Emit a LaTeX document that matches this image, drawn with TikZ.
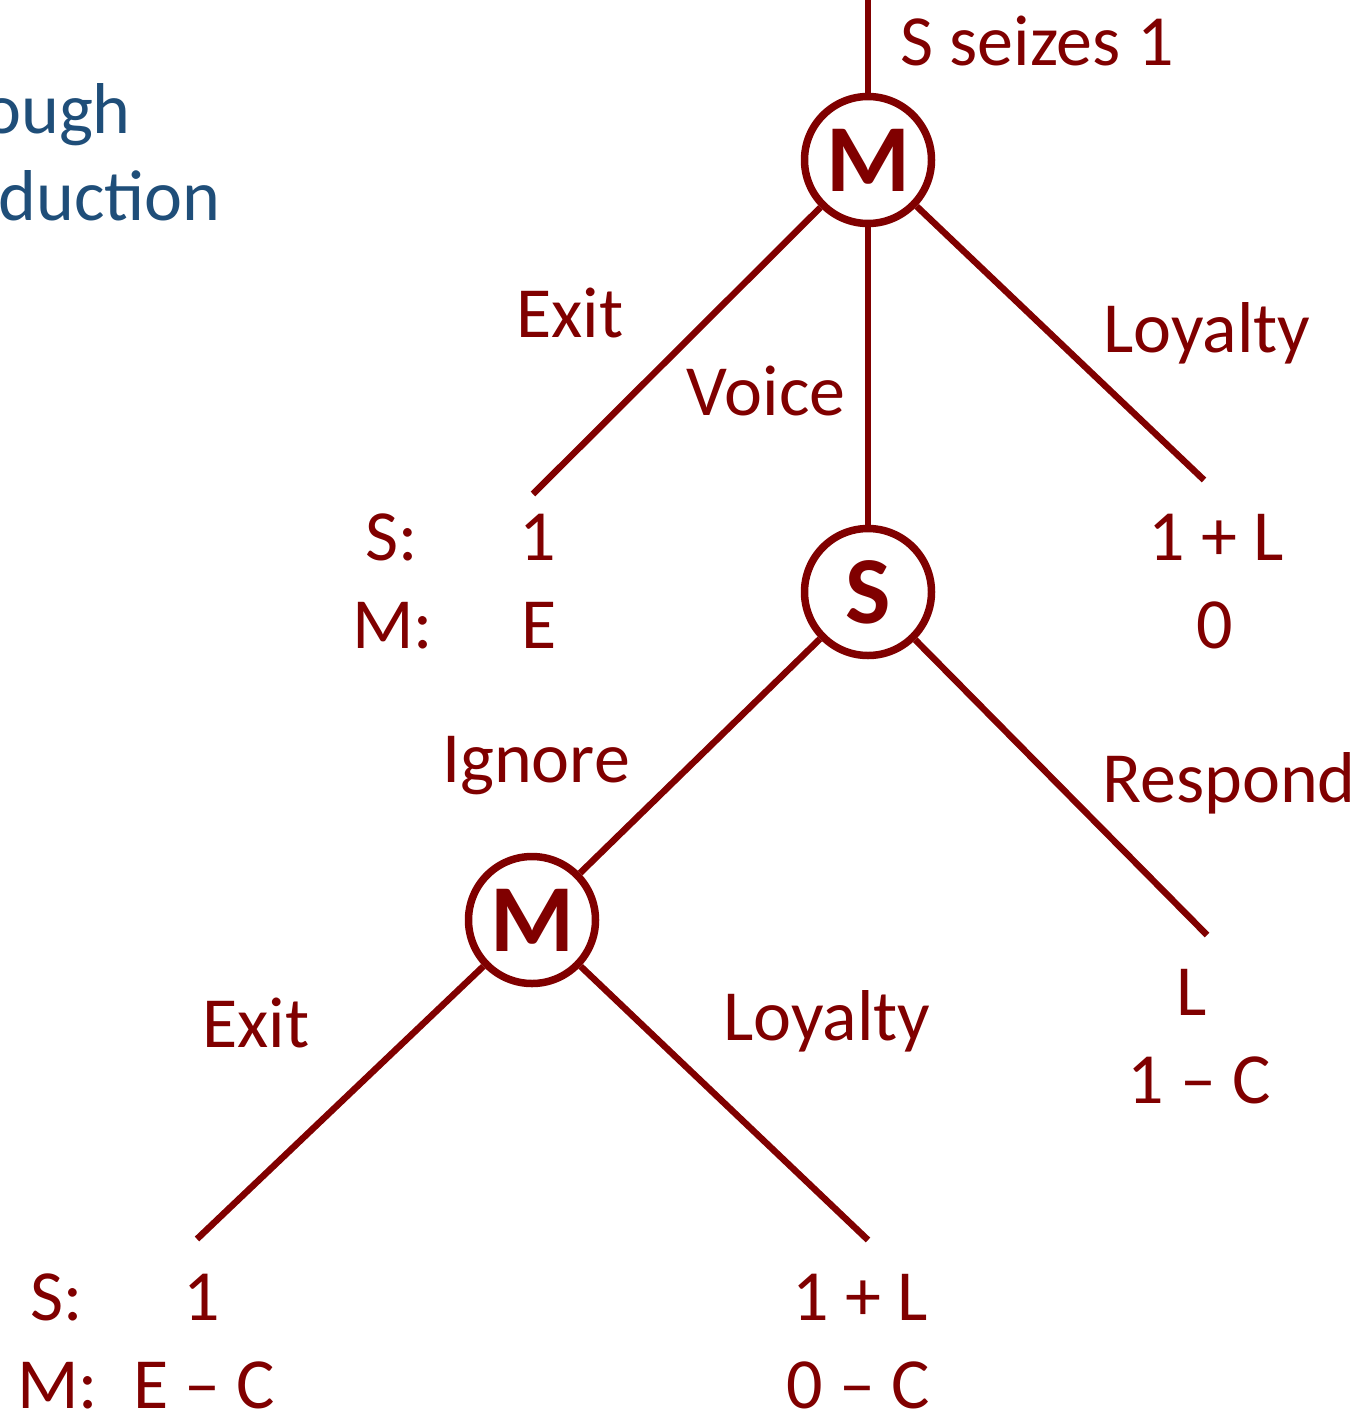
\documentclass[tikz,border=0pt]{standalone}
\usepackage{fontspec}
\setmainfont{Carlito}
\definecolor{maroon}{HTML}{800000}
\definecolor{titleblue}{HTML}{1F4E79}
\begin{document}
\begin{tikzpicture}[x=1pt,y=-1pt,
  lbl/.style={text=maroon,font=\fontsize{72}{72}\selectfont,inner sep=0pt},
  ttl/.style={text=titleblue,font=\fontsize{72}{72}\selectfont,inner sep=0pt},
  player/.style={circle,draw=maroon,line width=7.5pt,fill=white,minimum size=127pt,inner sep=0pt,text=maroon,font=\fontsize{96}{96}\selectfont\bfseries},
  branch/.style={draw=maroon,line width=6.5pt}]
\useasboundingbox (0,0) rectangle (1365,1414);
\clip (0,0) rectangle (1365,1414);
% title fragments
\node[ttl,anchor=base east] (t1) at (131,133) {ough};
\node[ttl,anchor=base east] (t2) at (221,220) {duction};
% players
\node[player] (m1) at (868,160) {M};
\node[player] (s1) at (868,592) {S};
\node[player] (m2) at (532,920) {M};
% end coordinates
\coordinate (top) at (868,-10);
\coordinate (e1) at (533,494);
\coordinate (l1) at (1204,480);
\coordinate (r1) at (1207,935);
\coordinate (e2) at (197,1239);
\coordinate (l2) at (868,1240);
% branches
\draw[branch] (top) -- (m1);
\draw[branch] (m1) -- (e1);
\draw[branch] (m1) -- (s1);
\draw[branch] (m1) -- (l1);
\draw[branch] (s1) -- (m2);
\draw[branch] (s1) -- (r1);
\draw[branch] (m2) -- (e2);
\draw[branch] (m2) -- (l2);
% action labels
\node[lbl,anchor=base west] (seize) at (900,65) {S seizes 1};
\node[lbl,anchor=base] (exit1) at (570,337) {Exit};
\node[lbl,anchor=base] (voice) at (766,415) {Voice};
\node[lbl,anchor=base] (loy1) at (1207,352) {Loyalty};
\node[lbl,anchor=base] (ignore) at (536,782) {Ignore};
\node[lbl,anchor=base] (respond) at (1229,802) {Respond};
\node[lbl,anchor=base] (exit2) at (256,1047) {Exit};
\node[lbl,anchor=base] (loy2) at (827,1040) {Loyalty};
% payoffs
\node[lbl,anchor=base west] (ps1) at (365,560) {S:};
\node[lbl,anchor=base] (pv1) at (538,560) {1};
\node[lbl,anchor=base west] (pm1) at (352,648) {M:};
\node[lbl,anchor=base] (pw1) at (539,648) {E};
\node[lbl,anchor=base] (pv2) at (1216,560) {1 + L};
\node[lbl,anchor=base] (pw2) at (1215,648) {0};
\node[lbl,anchor=base] (pv3) at (1192,1015) {L};
\node[lbl,anchor=base] (pw3) at (1199,1103) {1 – C};
\node[lbl,anchor=base west] (ps4) at (30,1320) {S:};
\node[lbl,anchor=base] (pv4) at (202,1320) {1};
\node[lbl,anchor=base west] (pm4) at (17,1408) {M:};
\node[lbl,anchor=base] (pw4) at (204,1408) {E – C};
\node[lbl,anchor=base] (pv5) at (860,1320) {1 + L};
\node[lbl,anchor=base] (pw5) at (858,1408) {0 – C};
\end{tikzpicture}
\end{document}
